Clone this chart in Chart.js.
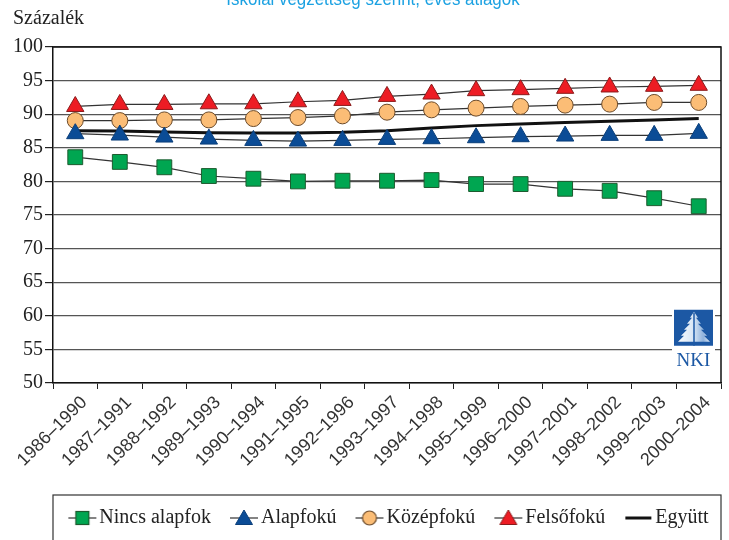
<!DOCTYPE html>
<html>
<head>
<meta charset="utf-8">
<script src="https://cdn.jsdelivr.net/npm/chart.js@4"></script>
<style>
  html, body { margin: 0; padding: 0; background: #fff; }
  #wrap { position: relative; width: 729px; height: 540px; overflow: hidden; }
  #cim { position: absolute; left: 373px; top: -12px; white-space: nowrap; color: #1ba1e2;
         transform: translateX(-50%) scaleX(0.89);
         font: 19px 'Liberation Sans', sans-serif; }
  #egyseg { position: absolute; left: 13px; top: 6px; color: #222; font: 20px 'Liberation Serif', serif; }
</style>
</head>
<body>
<div id="wrap">
  <canvas id="grafikon" width="729" height="540"></canvas>
  <div id="cim">Iskolai végzettség szerint, éves átlagok</div>
  <div id="egyseg">Százalék</div>
</div>
<script>
// adatok
const idoszakok = ['1986–1990', '1987–1991', '1988–1992', '1989–1993', '1990–1994', '1991–1995', '1992–1996',
  '1993–1997', '1994–1998', '1995–1999', '1996–2000', '1997–2001', '1998–2002', '1999–2003', '2000–2004'];
const nincsAlapfok = [83.6, 82.9, 82.1, 80.8, 80.4, 80.0, 80.1, 80.1, 80.2, 79.6, 79.6, 78.9, 78.6, 77.5, 76.3];
const alapfoku = [87.1, 86.9, 86.6, 86.3, 86.1, 86.0, 86.1, 86.25, 86.35, 86.5, 86.65, 86.75, 86.85, 86.85, 87.15];
const kozepfoku = [89.05, 89.05, 89.15, 89.15, 89.35, 89.5, 89.75, 90.3, 90.65, 90.9, 91.15, 91.35, 91.5, 91.75, 91.75];
const felsofoku = [91.15, 91.45, 91.45, 91.55, 91.55, 91.85, 92.05, 92.65, 93.0, 93.5, 93.65, 93.85, 94.05, 94.15, 94.3];
const egyutt = [87.55, 87.5, 87.35, 87.25, 87.2, 87.2, 87.3, 87.55, 87.95, 88.3, 88.55, 88.75, 88.95, 89.15, 89.35];
const yTickek = [50, 55, 60, 65, 70, 75, 80, 85, 90, 95, 100];

const vonalSzin = '#333333';
const serifFont = "'Liberation Serif', serif";
const sansFont = "'Liberation Sans', sans-serif";

// jelmagyarazat ikonok: vonal + jelolo
function ikon(rajz) {
    const c = document.createElement('canvas');
    c.width = 30; c.height = 20;
    const g = c.getContext('2d');
    rajz(g);
    return c;
}
function vonal(g, w, szin) {
    g.strokeStyle = szin; g.lineWidth = w;
    g.beginPath(); g.moveTo(1, 10); g.lineTo(29, 10); g.stroke();
}
function haromszog(g, kitoltes, keret) {
    g.fillStyle = kitoltes; g.strokeStyle = keret; g.lineWidth = 1;
    g.beginPath(); g.moveTo(15, 2); g.lineTo(23.5, 16.5); g.lineTo(6.5, 16.5); g.closePath();
    g.fill(); g.stroke();
}
const ikonok = [
    ikon(g => { vonal(g, 1.2, vonalSzin); g.fillStyle = '#00a651'; g.strokeStyle = '#1d5b2f'; g.fillRect(8.5, 3.5, 13, 13); g.strokeRect(8.5, 3.5, 13, 13); }),
    ikon(g => { vonal(g, 1.2, vonalSzin); haromszog(g, '#0b4c96', '#0b3f7a'); }),
    ikon(g => { vonal(g, 1.2, vonalSzin); g.fillStyle = '#fbbd76'; g.strokeStyle = '#6b4a2a'; g.beginPath(); g.arc(15, 10, 7, 0, Math.PI * 2); g.fill(); g.stroke(); }),
    ikon(g => { vonal(g, 1.2, vonalSzin); haromszog(g, '#ed1c24', '#8a1a1a'); }),
    ikon(g => { g.strokeStyle = '#111'; g.lineWidth = 3; g.beginPath(); g.moveTo(2, 10); g.lineTo(28, 10); g.stroke(); })
];

// keret, jelmagyarazat doboz, NKI logo
const keretPlugin = {
    id: 'keret',
    afterLayout(chart) {
        // a jelmagyarazat kicsit jobbra tolva, mint az eredetin
        chart.legend.left += 26;
        chart.legend.right += 26;
    },
    beforeDatasetsDraw(chart) {
        const { ctx, chartArea: a } = chart;
        ctx.save();
        ctx.strokeStyle = '#111';
        ctx.lineWidth = 1.5;
        ctx.beginPath();
        ctx.moveTo(a.left, a.top); ctx.lineTo(a.right, a.top); ctx.lineTo(a.right, a.bottom);
        ctx.stroke();
        ctx.restore();
    },
    afterDraw(chart) {
        const { ctx, chartArea: a } = chart;
        const lg = chart.legend;
        ctx.save();
        ctx.strokeStyle = '#333';
        ctx.lineWidth = 1.2;
        ctx.strokeRect(a.left, lg.top + 13, a.right - a.left, 60);

        // logo
        const y = chart.scales.y;
        const lx = a.right - 47, ly = y.getPixelForValue(60.9), w = 39, h = 36;
        ctx.fillStyle = '#fff';
        ctx.fillRect(lx - 2, ly - 2, w + 4, h + 24);
        ctx.fillStyle = '#1c58a4';
        ctx.fillRect(lx, ly, w, h);
        const gr = ctx.createLinearGradient(lx, 0, lx + w, 0);
        gr.addColorStop(0, '#ffffff');
        gr.addColorStop(0.5, '#d8e6f5');
        gr.addColorStop(0.75, '#8fb2dc');
        gr.addColorStop(1, '#ffffff');
        ctx.fillStyle = gr;
        const bal = [[20, 2], [16, 8], [18, 8], [13, 14], [16, 14], [10, 20], [13, 20], [7, 26], [10, 26], [4, 32]];
        ctx.beginPath();
        bal.forEach(([px, py], i) => i ? ctx.lineTo(lx + px, ly + py) : ctx.moveTo(lx + px, ly + py));
        bal.slice().reverse().forEach(([px, py]) => ctx.lineTo(lx + 40 - px, ly + py));
        ctx.closePath();
        ctx.fill();
        ctx.strokeStyle = '#1c58a4';
        ctx.lineWidth = 1.5;
        ctx.beginPath(); ctx.moveTo(lx + 20, ly + 3); ctx.lineTo(lx + 20, ly + h); ctx.stroke();
        ctx.fillStyle = '#1c58a4';
        ctx.font = "19px 'Liberation Serif', serif";
        ctx.textAlign = 'center';
        ctx.textBaseline = 'alphabetic';
        ctx.fillText('NKI', lx + w / 2, ly + h + 20);
        ctx.restore();
    }
};

function adatsor(nev, adatok, pont, meret, kitoltes, keret) {
    return {
        label: nev,
        data: adatok,
        borderColor: vonalSzin,
        borderWidth: 1.2,
        pointStyle: pont,
        pointRadius: meret,
        pointBackgroundColor: kitoltes,
        pointBorderColor: keret,
        pointBorderWidth: 1,
        tension: 0
    };
}

new Chart(document.getElementById('grafikon'), {
    type: 'line',
    data: {
        labels: idoszakok,
        datasets: [
            adatsor('Nincs alapfok', nincsAlapfok, 'rect', 10.5, '#00a651', '#1d5b2f'),
            adatsor('Alapfokú', alapfoku, 'triangle', 10, '#0b4c96', '#0b3f7a'),
            adatsor('Középfokú', kozepfoku, 'circle', 8, '#fbbd76', '#6b4a2a'),
            adatsor('Felsőfokú', felsofoku, 'triangle', 10, '#ed1c24', '#8a1a1a'),
            { label: 'Együtt', data: egyutt, borderColor: '#111', borderWidth: 3, pointRadius: 0, tension: 0 }
        ]
    },
    options: {
        responsive: false,
        animation: false,
        layout: { autoPadding: false, padding: { top: 47, left: 11, right: 8, bottom: 2 } },
        scales: {
            x: {
                offset: true,
                grid: { offset: true, drawOnChartArea: false, color: '#222', tickLength: 6 },
                border: { color: '#111', width: 1.5 },
                ticks: { autoSkip: false, minRotation: 45, maxRotation: 45, padding: 3, labelOffset: 9,
                         color: '#333', font: { family: sansFont, size: 18 } },
                afterFit(axis) { axis.height = 99; axis.paddingRight = 0; }
            },
            y: {
                min: 50, max: 100,
                afterBuildTicks(axis) { axis.ticks = yTickek.map(v => ({ value: v })); },
                grid: { color: '#555', lineWidth: 1.2, tickLength: 8, tickColor: '#222' },
                border: { color: '#111', width: 1.5 },
                ticks: { padding: 2, color: '#222', font: { family: serifFont, size: 20 } }
            }
        },
        plugins: {
            legend: {
                position: 'bottom',
                labels: {
                    usePointStyle: true,
                    pointStyleWidth: 14,
                    padding: 26,
                    color: '#222',
                    font: { family: serifFont, size: 20 },
                    generateLabels(chart) {
                        const items = Chart.defaults.plugins.legend.labels.generateLabels(chart);
                        items.forEach((it, i) => { it.pointStyle = ikonok[i]; });
                        return items;
                    }
                }
            },
            tooltip: { enabled: false }
        }
    },
    plugins: [keretPlugin]
});
</script>
</body>
</html>
